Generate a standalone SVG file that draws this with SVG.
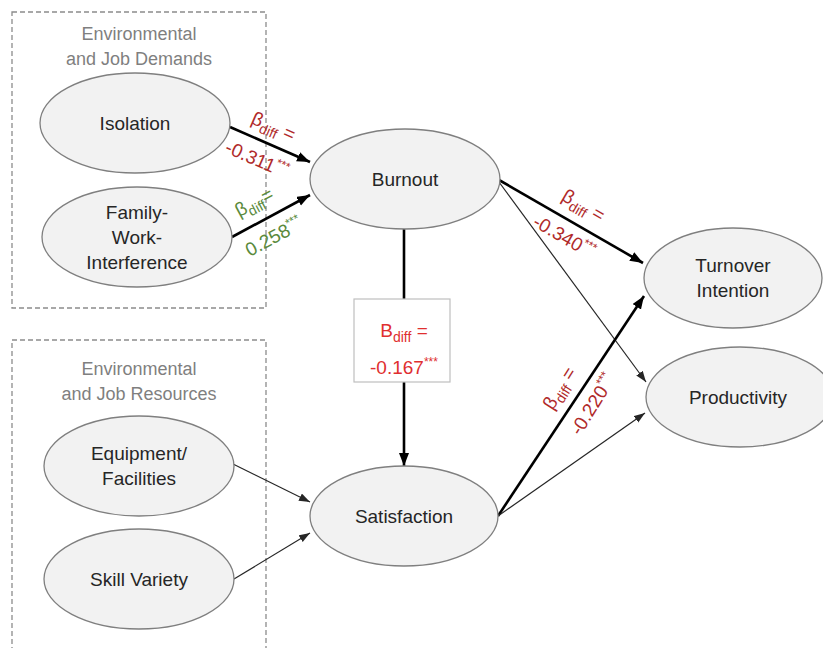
<svg xmlns="http://www.w3.org/2000/svg" width="823" height="648" viewBox="0 0 823 648">
  <style>
    .node ellipse { fill: #f2f2f2; stroke: #7f7f7f; stroke-width: 1.3; }
    .node text { font-family: "Liberation Sans", Arial, sans-serif; font-size: 19px; fill: #262626; text-anchor: middle; }
    .group rect { fill: none; stroke: #8c8c8c; stroke-width: 1.3; stroke-dasharray: 5 3; }
    .group text { font-family: "Liberation Sans", Arial, sans-serif; font-size: 18px; fill: #7f7f7f; text-anchor: middle; }
    .thick { stroke: #000; stroke-width: 2.6; fill: none; marker-end: url(#headBig); }
    .thin { stroke: #262626; stroke-width: 1.2; fill: none; marker-end: url(#headSmall); }
    .lbl { font-family: "Liberation Sans", Arial, sans-serif; font-size: 19px; text-anchor: middle; }
    .red { fill: #b02a2a; }
    .green { fill: #5a8a3c; }
    .bright { fill: #e02f2f; }
    .sub { font-size: 14px; }
    .sup { font-size: 12px; }
  </style>
  <defs>
    <marker id="headBig" markerUnits="userSpaceOnUse" markerWidth="14" markerHeight="12" refX="13" refY="5" orient="auto">
      <path d="M0,0 L13,5 L0,10 z" fill="#000"/>
    </marker>
    <marker id="headSmall" markerUnits="userSpaceOnUse" markerWidth="12" markerHeight="10" refX="11" refY="4" orient="auto">
      <path d="M0,0 L11,4 L0,8 z" fill="#262626"/>
    </marker>
  </defs>

  <!-- construct groups -->
  <g id="group-demands" class="group">
    <rect x="12" y="12" width="254" height="296"/>
    <text x="139" y="40">Environmental</text>
    <text x="139" y="65">and Job Demands</text>
  </g>
  <g id="group-resources" class="group">
    <rect x="12" y="340" width="254" height="330"/>
    <text x="139" y="375">Environmental</text>
    <text x="139" y="400">and Job Resources</text>
  </g>

  <!-- paths -->
  <g id="connectors">
    <line class="thick" x1="230" y1="127" x2="310" y2="162"/>
    <line class="thick" x1="232" y1="237" x2="310" y2="195"/>
    <line class="thick" x1="499" y1="180" x2="643" y2="263"/>
    <line class="thin" x1="499" y1="182" x2="646" y2="382"/>
    <line class="thick" x1="404" y1="229" x2="404" y2="466"/>
    <line class="thick" x1="498" y1="516" x2="644" y2="296"/>
    <line class="thin" x1="498" y1="516" x2="645" y2="413"/>
    <line class="thin" x1="233" y1="464" x2="310" y2="502"/>
    <line class="thin" x1="234" y1="579" x2="310" y2="533"/>
  </g>

  <!-- coefficient box on the Burnout -> Satisfaction path -->
  <g id="coef-box">
    <rect x="354" y="299" width="96" height="83" fill="#fff" stroke="#bfbfbf" stroke-width="1.2"/>
    <text class="lbl bright" x="404" y="337">B<tspan class="sub" dy="5">diff</tspan><tspan dy="-5"> =</tspan></text>
    <text class="lbl bright" x="404" y="374">-0.167<tspan class="sup" dy="-8">***</tspan></text>
  </g>

  <!-- path coefficients, each set in the frame of its arrow -->
  <g id="coef-isolation" transform="translate(268,144) rotate(23.6)">
    <text class="lbl red" x="-2" y="-12">β<tspan class="sub" dy="5">diff</tspan><tspan dy="-5"> =</tspan></text>
    <text class="lbl red" x="-4" y="25">-0.311<tspan class="sup" dy="-8">***</tspan></text>
  </g>
  <g id="coef-family" transform="translate(262,221) rotate(-28.3)">
    <text class="lbl green" x="2" y="-14">β<tspan class="sub" dy="5">diff</tspan><tspan dy="-5">=</tspan></text>
    <text class="lbl green" x="3" y="26">0.258<tspan class="sup" dy="-8">***</tspan></text>
  </g>
  <g id="coef-turnover" transform="translate(575,224) rotate(30)">
    <text class="lbl red" x="-2" y="-14">β<tspan class="sub" dy="5">diff</tspan><tspan dy="-5"> =</tspan></text>
    <text class="lbl red" x="-3" y="23">-0.340<tspan class="sup" dy="-8">***</tspan></text>
  </g>
  <g id="coef-satisfaction" transform="translate(578,395) rotate(-58)">
    <text class="lbl red" x="-4" y="-13">β<tspan class="sub" dy="5">diff</tspan><tspan dy="-5"> =</tspan></text>
    <text class="lbl red" x="0" y="24">-0.220<tspan class="sup" dy="-8">***</tspan></text>
  </g>

  <!-- latent constructs -->
  <g id="isolation" class="node">
    <ellipse cx="135" cy="123" rx="95" ry="50"/>
    <text x="135" y="130">Isolation</text>
  </g>
  <g id="family-work-interference" class="node">
    <ellipse cx="137" cy="237" rx="95" ry="50"/>
    <text x="137" y="219">Family-</text>
    <text x="137" y="244">Work-</text>
    <text x="137" y="269">Interference</text>
  </g>
  <g id="burnout" class="node">
    <ellipse cx="405" cy="179" rx="95" ry="50"/>
    <text x="405" y="186">Burnout</text>
  </g>
  <g id="turnover-intention" class="node">
    <ellipse cx="733" cy="278" rx="89" ry="50"/>
    <text x="733" y="272">Turnover</text>
    <text x="733" y="297">Intention</text>
  </g>
  <g id="productivity" class="node">
    <ellipse cx="740" cy="397" rx="94" ry="50"/>
    <text x="738" y="404">Productivity</text>
  </g>
  <g id="satisfaction" class="node">
    <ellipse cx="404" cy="516" rx="94" ry="50"/>
    <text x="404" y="523">Satisfaction</text>
  </g>
  <g id="equipment-facilities" class="node">
    <ellipse cx="139" cy="466" rx="95" ry="50"/>
    <text x="139" y="460">Equipment/</text>
    <text x="139" y="485">Facilities</text>
  </g>
  <g id="skill-variety" class="node">
    <ellipse cx="139" cy="579" rx="95" ry="50"/>
    <text x="139" y="586">Skill Variety</text>
  </g>
</svg>
